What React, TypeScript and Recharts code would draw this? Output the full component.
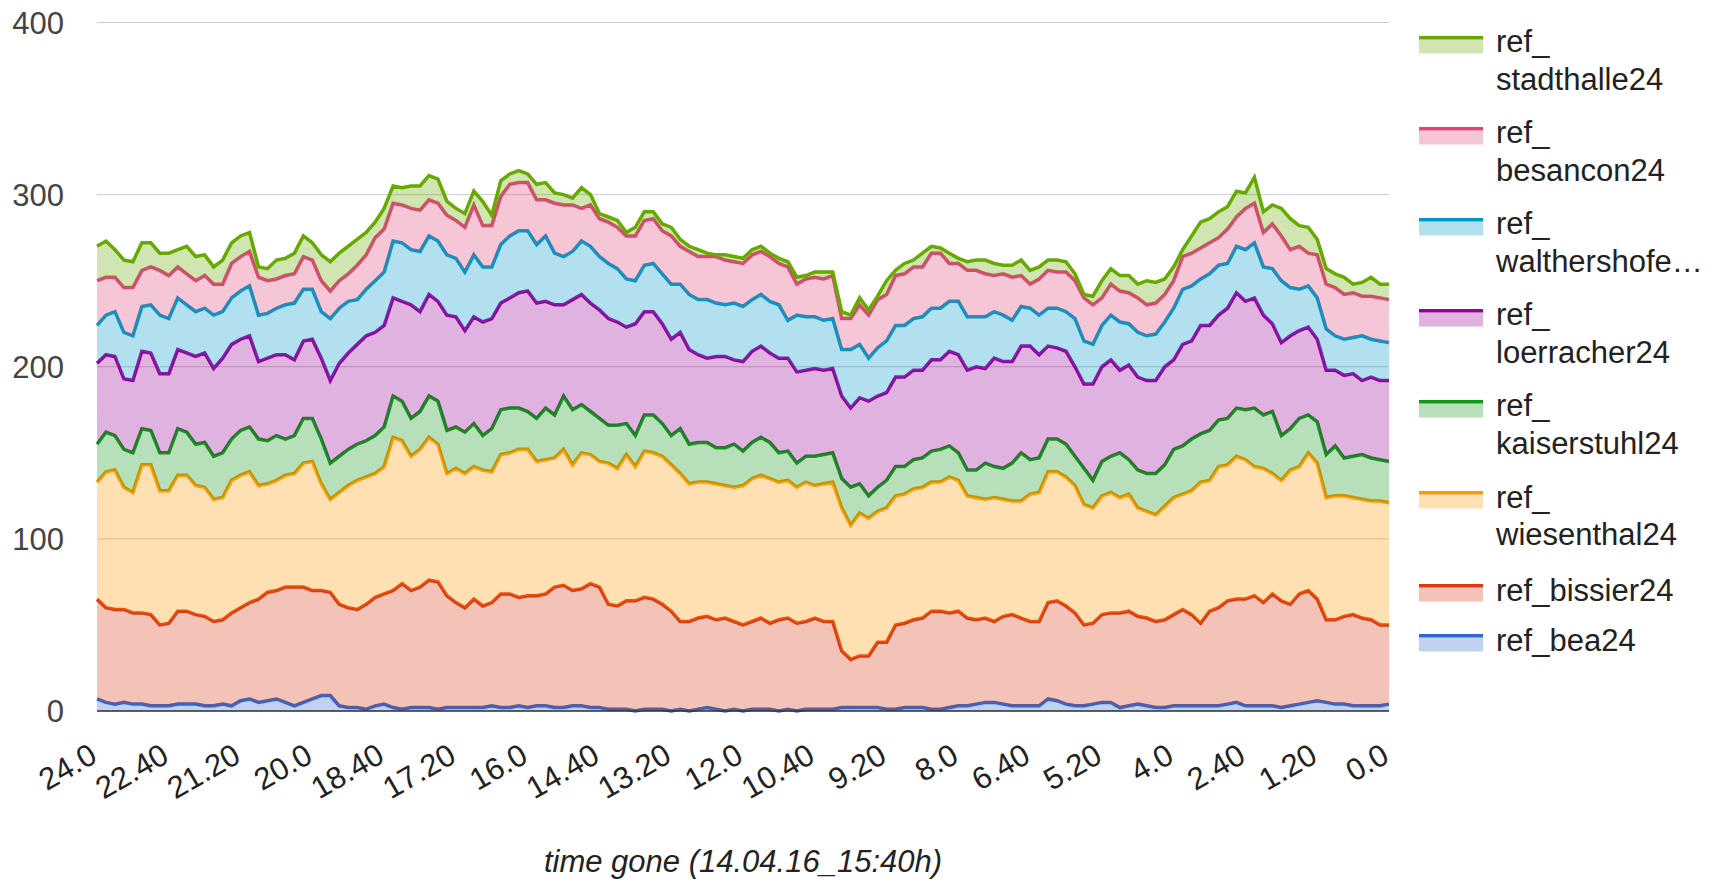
import React from 'react'
import { AreaChart, Area, XAxis, YAxis, CartesianGrid, Legend, ReferenceLine } from 'recharts'

const FONT = "'Liberation Sans', Arial, sans-serif"

// hours gone: readings on the full 20-minute marks ...
const timesA = [
  '24.0', '23.40', '23.20', '23.0', '22.40', '22.20', '22.0', '21.40', '21.20', '21.0',
  '20.40', '20.20', '20.0', '19.40', '19.20', '19.0', '18.40', '18.20', '18.0', '17.40',
  '17.20', '17.0', '16.40', '16.20', '16.0', '15.40', '15.20', '15.0', '14.40', '14.20',
  '14.0', '13.40', '13.20', '13.0', '12.40', '12.20', '12.0', '11.40', '11.20', '11.0',
  '10.40', '10.20', '10.0', '9.40', '9.20', '9.0', '8.40', '8.20', '8.0', '7.40',
  '7.20', '7.0', '6.40', '6.20', '6.0', '5.40', '5.20', '5.0', '4.40', '4.20',
  '4.0', '3.40', '3.20', '3.0', '2.40', '2.20', '2.0', '1.40', '1.20', '1.0',
  '0.40', '0.20', '0.0',
]
// ... and the ones 10 minutes later, in between
const timesB = [
  '23.50', '23.30', '23.10', '22.50', '22.30', '22.10', '21.50', '21.30', '21.10', '20.50',
  '20.30', '20.10', '19.50', '19.30', '19.10', '18.50', '18.30', '18.10', '17.50', '17.30',
  '17.10', '16.50', '16.30', '16.10', '15.50', '15.30', '15.10', '14.50', '14.30', '14.10',
  '13.50', '13.30', '13.10', '12.50', '12.30', '12.10', '11.50', '11.30', '11.10', '10.50',
  '10.30', '10.10', '9.50', '9.30', '9.10', '8.50', '8.30', '8.10', '7.50', '7.30',
  '7.10', '6.50', '6.30', '6.10', '5.50', '5.30', '5.10', '4.50', '4.30', '4.10',
  '3.50', '3.30', '3.10', '2.50', '2.30', '2.10', '1.50', '1.30', '1.10', '0.50',
  '0.30', '0.10',
]

const bea24A = [
  7, 4, 4, 3, 3, 4, 3, 4, 6, 5, 7, 3, 7, 9, 2, 1, 4, 1, 2, 1,
  2, 2, 3, 2, 2, 3, 2, 3, 2, 1, 0, 1, 0, 0, 2, 0, 0,
  1, 0, 0, 1, 1, 2, 2, 1, 2, 2, 1, 3, 4, 5, 3, 3, 7,
  4, 3, 5, 2, 4, 2, 3, 3, 3, 4, 3, 3, 2, 4, 6, 4, 3, 3, 4,
]
const bea24B = [
  5, 5, 4, 3, 4, 4, 3, 3, 7, 6, 5, 5, 9, 3, 2, 3, 2, 2, 2,
  2, 2, 2, 2, 3, 3, 2, 3, 2, 1, 1, 1, 1, 1, 1, 1, 1,
  1, 1, 1, 1, 1, 2, 2, 2, 1, 2, 1, 2, 3, 5, 4, 3, 3, 6,
  3, 4, 5, 3, 3, 2, 3, 3, 3, 5, 3, 3, 3, 5, 5, 4, 3, 3,
]

const bissier24A = [
  58, 55, 53, 53, 48, 54, 52, 49, 54, 60, 63, 69, 63, 60, 58, 61, 64, 73, 70, 74,
  61, 63, 60, 66, 65, 65, 71, 68, 70, 60, 64, 64, 58, 52, 53, 54, 50,
  53, 53, 51, 53, 51, 28, 30, 39, 49, 52, 57, 55, 49, 47, 53, 49, 56,
  57, 47, 51, 55, 51, 50, 53, 53, 55, 60, 62, 60, 62, 64, 59, 49, 53, 50, 46,
]
const bissier24B = [
  55, 54, 53, 47, 54, 52, 49, 54, 56, 63, 67, 67, 61, 59, 57, 63, 68, 68, 74,
  65, 58, 59, 66, 63, 64, 70, 67, 72, 61, 63, 65, 61, 51, 53, 52, 51,
  51, 50, 53, 51, 51, 33, 30, 38, 49, 51, 57, 55, 51, 49, 51, 51, 49, 58,
  54, 47, 52, 55, 51, 51, 56, 48, 57, 60, 64, 65, 59, 65, 48, 51, 51, 47,
]

const wiesenthal24A = [
  68, 81, 70, 87, 77, 79, 75, 71, 77, 66, 64, 66, 75, 54, 71, 74, 74, 83, 80, 80,
  78, 77, 76, 82, 85, 78, 79, 79, 73, 80, 78, 85, 85, 80, 78, 77, 81,
  83, 80, 79, 77, 81, 78, 80, 78, 75, 76, 75, 76, 71, 72, 66, 74, 76,
  75, 70, 69, 67, 63, 62, 68, 72, 76, 79, 81, 78, 70, 74, 79, 72, 68, 69, 71,
]
const wiesenthal24B = [
  79, 71, 86, 78, 79, 75, 71, 77, 76, 63, 65, 72, 62, 65, 75, 72, 89, 78, 83,
  71, 78, 79, 81, 86, 78, 75, 73, 75, 82, 85, 85, 86, 86, 79, 79, 78,
  83, 84, 80, 81, 80, 83, 83, 76, 75, 76, 75, 79, 71, 69, 68, 68, 75, 75,
  74, 67, 70, 68, 62, 66, 67, 82, 82, 83, 75, 70, 78, 80, 71, 70, 69, 72,
]

const kaiserstuhl24A = [
  22, 20, 23, 20, 22, 25, 26, 26, 26, 27, 26, 22, 25, 21, 21, 21, 23, 23, 22, 25,
  24, 25, 25, 26, 22, 30, 31, 28, 25, 25, 18, 22, 17, 23, 23, 22, 20,
  22, 17, 14, 17, 17, 22, 13, 16, 16, 17, 19, 16, 16, 18, 22, 20, 19,
  19, 21, 20, 26, 22, 24, 28, 30, 29, 27, 29, 31, 26, 28, 24, 29, 24, 25, 24,
]
const kaiserstuhl24B = [
  23, 22, 21, 22, 27, 24, 25, 24, 26, 25, 21, 26, 26, 21, 21, 22, 24, 22, 24,
  25, 24, 20, 26, 24, 25, 25, 32, 25, 22, 18, 21, 19, 26, 23, 21, 25,
  21, 21, 17, 15, 17, 17, 17, 14, 17, 17, 18, 18, 15, 21, 18, 28, 20, 19,
  17, 16, 21, 20, 22, 24, 28, 28, 27, 28, 34, 36, 24, 22, 25, 22, 26, 24,
]

const loerracher24A = [
  47, 46, 42, 45, 46, 46, 52, 55, 53, 45, 47, 44, 46, 48, 56, 61, 59, 58, 58, 58,
  64, 62, 64, 64, 70, 62, 53, 64, 63, 60, 65, 60, 56, 55, 49, 53, 52,
  53, 55, 53, 51, 49, 46, 55, 51, 52, 51, 52, 57, 60, 63, 59, 66, 54,
  54, 49, 55, 48, 54, 54, 52, 57, 61, 64, 63, 58, 54, 51, 48, 44, 48, 47, 47,
]
const loerracher24B = [
  45, 41, 45, 46, 46, 51, 51, 55, 53, 48, 49, 45, 47, 54, 58, 60, 57, 66, 59,
  67, 59, 66, 62, 67, 67, 64, 64, 63, 62, 56, 60, 58, 56, 51, 53, 49,
  53, 52, 54, 50, 49, 48, 50, 53, 52, 52, 53, 55, 58, 55, 62, 62, 60, 53,
  52, 56, 56, 55, 54, 57, 59, 63, 61, 67, 64, 51, 54, 51, 49, 48, 43, 46,
]

const walthershofen24A = [
  22, 26, 26, 28, 32, 28, 26, 27, 28, 27, 27, 33, 29, 36, 30, 27, 31, 34, 35, 35,
  34, 36, 30, 36, 35, 38, 28, 31, 31, 31, 25, 28, 32, 32, 34, 30, 32,
  30, 31, 33, 30, 29, 34, 25, 30, 30, 31, 30, 31, 29, 27, 24, 22, 22,
  23, 25, 24, 28, 26, 27, 30, 32, 30, 26, 30, 28, 36, 24, 24, 20, 21, 22, 22,
]
const walthershofen24B = [
  23, 27, 26, 34, 30, 26, 31, 27, 29, 26, 29, 30, 27, 32, 26, 30, 33, 32, 34,
  35, 34, 32, 34, 36, 34, 30, 28, 33, 32, 28, 27, 29, 28, 32, 31, 33,
  30, 30, 22, 31, 29, 27, 31, 28, 30, 30, 30, 29, 31, 30, 27, 23, 23, 23,
  28, 23, 26, 24, 26, 26, 32, 27, 29, 27, 32, 32, 28, 24, 24, 21, 26, 23,
]

const besancon24A = [
  26, 20, 28, 22, 25, 18, 19, 16, 20, 22, 17, 17, 17, 16, 16, 20, 25, 22, 24, 22,
  22, 29, 24, 30, 28, 21, 30, 19, 22, 24, 26, 26, 28, 25, 25, 26, 25,
  25, 24, 18, 23, 25, 18, 25, 27, 30, 29, 32, 22, 27, 21, 25, 14, 22,
  23, 25, 16, 18, 20, 18, 16, 19, 18, 20, 24, 20, 26, 25, 25, 28, 26, 25, 25,
]
const besancon24B = [
  22, 26, 21, 26, 18, 18, 18, 20, 20, 19, 17, 19, 18, 16, 20, 25, 22, 24, 21,
  23, 26, 24, 28, 28, 26, 29, 27, 24, 24, 25, 26, 25, 22, 25, 27, 24,
  26, 26, 31, 22, 24, 18, 23, 28, 29, 30, 32, 22, 27, 25, 24, 18, 21, 21,
  22, 23, 18, 18, 18, 16, 19, 18, 16, 17, 23, 26, 22, 19, 26, 26, 23, 25,
]

const stadthalle24A = [
  20, 16, 15, 14, 13, 16, 12, 14, 12, 6, 11, 12, 10, 17, 16, 13, 12, 10, 14, 14,
  7, 8, 6, 6, 5, 10, 6, 12, 3, 4, 5, 4, 5, 3, 2, 3, 3,
  3, 3, 4, 3, 2, 2, 3, 8, 6, 8, 3, 3, 6, 7, 7, 8, 6,
  6, 2, 10, 9, 8, 12, 8, 10, 14, 13, 9, 12, 16, 12, 9, 8, 5, 11, 9,
]
const stadthalle24B = [
  21, 16, 16, 10, 10, 14, 10, 12, 11, 7, 10, 12, 15, 16, 15, 9, 10, 13, 14,
  8, 8, 14, 9, 7, 9, 6, 4, 6, 3, 2, 5, 4, 4, 4, 1, 3,
  3, 2, 3, 2, 4, 4, 4, 2, 3, 4, 4, 6, 5, 8, 5, 9, 7, 7,
  4, 5, 9, 10, 14, 9, 4, 15, 15, 15, 15, 11, 18, 15, 9, 10, 8, 8,
]

const yTicks = [0, 100, 200, 300, 400]

// put the in-between readings back between the 20-minute ones
function weave<T>(a: T[], b: T[]): T[] {
  const out: T[] = []
  a.forEach((v, i) => {
    out.push(v)
    if (i < b.length) out.push(b[i])
  })
  return out
}

// stacking order: first entry sits at the bottom
const series = [
  { key: 'bea', name: 'ref_bea24', color: '#3366cc', values: weave(bea24A, bea24B), label: ['ref_bea24'] },
  { key: 'bissier', name: 'ref_bissier24', color: '#dc3912', values: weave(bissier24A, bissier24B), label: ['ref_bissier24'] },
  { key: 'wiesenthal', name: 'ref_wiesenthal24', color: '#ff9900', values: weave(wiesenthal24A, wiesenthal24B), label: ['ref_', 'wiesenthal24'] },
  { key: 'kaiserstuhl', name: 'ref_kaiserstuhl24', color: '#109618', values: weave(kaiserstuhl24A, kaiserstuhl24B), label: ['ref_', 'kaiserstuhl24'] },
  { key: 'loerracher', name: 'ref_loerracher24', color: '#990099', values: weave(loerracher24A, loerracher24B), label: ['ref_', 'loerracher24'] },
  { key: 'walthershofen', name: 'ref_walthershofen24', color: '#0099c6', values: weave(walthershofen24A, walthershofen24B), label: ['ref_', 'walthershofe…'] },
  { key: 'besancon', name: 'ref_besancon24', color: '#dd4477', values: weave(besancon24A, besancon24B), label: ['ref_', 'besancon24'] },
  { key: 'stadthalle', name: 'ref_stadthalle24', color: '#66aa00', values: weave(stadthalle24A, stadthalle24B), label: ['ref_', 'stadthalle24'] },
]

const data = weave(timesA, timesB).map((time, i) => {
  const row: Record<string, string | number> = { time }
  series.forEach((s) => {
    row[s.key] = s.values[i]
  })
  return row
})

// centre of the first text line of each legend entry, top to bottom
const legendRows = [41.5, 132.6, 223.7, 314.8, 405.9, 497, 590, 640]

function SeriesLegend() {
  const items = [...series].reverse()
  return (
    <div style={{ position: 'relative', width: 300, height: 680, fontFamily: FONT, fontSize: 31, color: '#222' }}>
      {items.map((s, i) => {
        const c = legendRows[i]
        return (
          <div key={s.key}>
            <svg width={64} height={18} style={{ position: 'absolute', left: 9, top: c - 6 }}>
              <rect x={0} y={3.5} width={64} height={14} fill={s.color} fillOpacity={0.3} />
              <rect x={0} y={0} width={64} height={3.5} fill={s.color} />
            </svg>
            <div
              style={{
                position: 'absolute',
                left: 86,
                top: c - 18.5,
                lineHeight: '37.5px',
                whiteSpace: 'nowrap',
              }}
            >
              {s.label.map((line) => (
                <div key={line}>{line}</div>
              ))}
            </div>
          </div>
        )
      })}
    </div>
  )
}

function TimeTick({ x, y, payload }: any) {
  const ax = x + 2
  const ay = y + 50
  return (
    <text
      x={ax}
      y={ay}
      transform={`rotate(-30, ${ax}, ${ay})`}
      textAnchor="end"
      fontSize={31}
      fontFamily={FONT}
      fill="#222"
    >
      {payload.value}
    </text>
  )
}

function AxisTitle({ viewBox }: any) {
  const cx = viewBox ? viewBox.x + viewBox.width / 2 : 743
  const by = viewBox ? viewBox.y + viewBox.height - 12 : 872
  return (
    <text x={cx} y={by} textAnchor="middle" fontSize={31} fontStyle="italic" fontFamily={FONT} fill="#222">
      time gone (14.04.16_15:40h)
    </text>
  )
}

export default function App() {
  return (
    <div style={{ position: 'absolute', left: 0, top: 0, width: 1712, height: 884, background: '#fff' }}>
      <AreaChart
        width={1712}
        height={884}
        data={data}
        margin={{ top: 22.5, right: 323, bottom: 0, left: 0 }}
      >
        <CartesianGrid vertical={false} stroke="#cccccc" />
        <XAxis
          dataKey="time"
          interval={7}
          height={173}
          axisLine={false}
          tickLine={false}
          tickSize={0}
          tickMargin={0}
          tick={<TimeTick />}
          label={<AxisTitle />}
        />
        <YAxis
          width={97}
          domain={[0, 400]}
          ticks={yTicks}
          axisLine={false}
          tickLine={false}
          tickSize={0}
          tickMargin={33}
          tick={{ fontSize: 31, fill: '#444', fontFamily: FONT }}
        />
        <ReferenceLine y={0} stroke="#333" strokeWidth={1.5} />
        {series.map((s) => (
          <Area
            key={s.key}
            type="linear"
            dataKey={s.key}
            name={s.name}
            stackId="refs"
            stroke={s.color}
            strokeWidth={3.5}
            fill={s.color}
            fillOpacity={0.3}
            dot={false}
            activeDot={false}
            isAnimationActive={false}
          />
        ))}
        <Legend
          layout="vertical"
          align="center"
          verticalAlign="middle"
          wrapperStyle={{ left: 1410, top: 0, width: 300 }}
          content={() => <SeriesLegend />}
        />
      </AreaChart>
    </div>
  )
}
